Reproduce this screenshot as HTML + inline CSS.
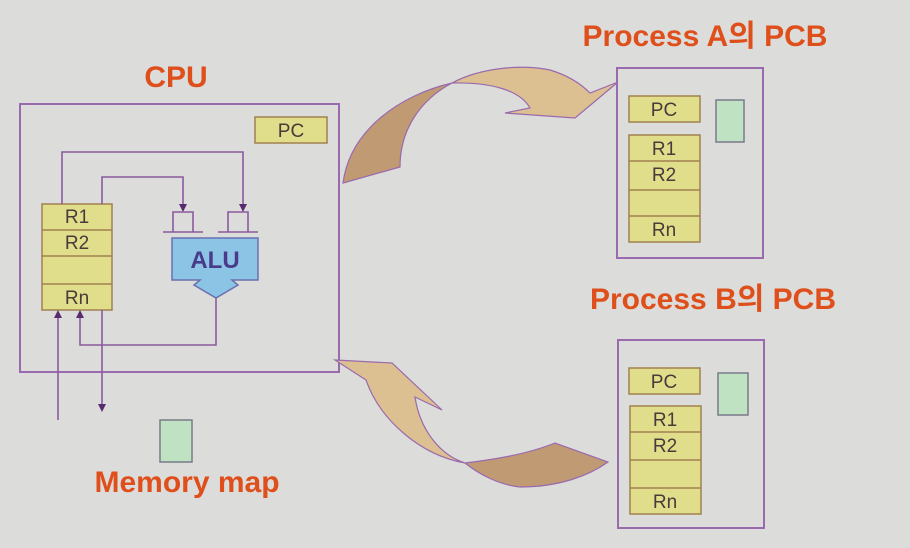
<!DOCTYPE html>
<html><head><meta charset="utf-8"><style>
html,body{margin:0;padding:0;background:#dcdcda}
svg{display:block}
text{font-family:"Liberation Sans","Noto Sans CJK KR",sans-serif}
.t{fill:#df4f1c;font-weight:bold;font-size:30px}
.r{fill:#4a3a3a;font-size:19px}
</style></head><body>
<svg width="910" height="548" viewBox="0 0 910 548" xmlns="http://www.w3.org/2000/svg">
<defs>
<marker id="ah" markerWidth="8" markerHeight="8" refX="4" refY="4" orient="auto" markerUnits="userSpaceOnUse"><path d="M0,0 L8,4 L0,8z" fill="#5a2a70"/></marker>
</defs>
<rect width="910" height="548" fill="#dcdcda"/>
<!-- labels -->
<text class="t" x="176" y="87" text-anchor="middle">CPU</text>
<text class="t" x="705" y="46" text-anchor="middle">Process A의 PCB</text>
<text class="t" x="713" y="309" text-anchor="middle">Process B의 PCB</text>
<text class="t" x="187" y="492" text-anchor="middle">Memory map</text>

<!-- CPU box -->
<rect x="20" y="104" width="319" height="268" fill="none" stroke="#9a6aae" stroke-width="2"/>
<rect x="255" y="117" width="72" height="26" fill="#e0de8a" stroke="#a08050" stroke-width="1.5"/>
<text class="r" x="291" y="137" text-anchor="middle">PC</text>
<!-- registers -->
<g stroke="#a08050" stroke-width="1.5" fill="#e0de8a">
<rect x="42" y="204" width="70" height="106"/>
<line x1="42" y1="230" x2="112" y2="230"/><line x1="42" y1="256" x2="112" y2="256"/><line x1="42" y1="284" x2="112" y2="284"/>
</g>
<text class="r" x="77" y="223" text-anchor="middle">R1</text>
<text class="r" x="77" y="249" text-anchor="middle">R2</text>
<text class="r" x="77" y="304" text-anchor="middle">Rn</text>
<!-- wires -->
<g fill="none" stroke="#8a5a9e" stroke-width="1.6">
<polyline points="62,204 62,152 243,152 243,208" marker-end="url(#ah)"/>
<polyline points="102,204 102,177 183,177 183,208" marker-end="url(#ah)"/>
<polyline points="216,297 216,345 80,345 80,314" marker-end="url(#ah)"/>
<polyline points="58,420 58,314" marker-end="url(#ah)"/>
<polyline points="102,310 102,408" marker-end="url(#ah)"/>
<path d="M173,232 V212 H193 V232 M163,232 H203"/>
<path d="M228,232 V212 H248 V232 M218,232 H258"/>
</g>
<path d="M172,238 H258 V280 H232 L238,285 L216,298 L194,285 L200,280 H172 Z" fill="#8cc4e6" stroke="#6a70b0" stroke-width="1.5"/>
<text x="215" y="268" text-anchor="middle" font-size="24" font-weight="bold" fill="#4a3a8a">ALU</text>
<!-- memory map -->
<rect x="160" y="420" width="32" height="42" fill="#bfe2c2" stroke="#7a7a8a" stroke-width="1.5"/>

<!-- PCB A -->
<rect x="617" y="68" width="146" height="190" fill="none" stroke="#9a6aae" stroke-width="2"/>
<g stroke="#a08050" stroke-width="1.5" fill="#e0de8a">
<rect x="629" y="96" width="71" height="26"/>
<rect x="629" y="135" width="71" height="107"/>
<line x1="629" y1="161" x2="700" y2="161"/><line x1="629" y1="190" x2="700" y2="190"/><line x1="629" y1="216" x2="700" y2="216"/>
</g>
<rect x="716" y="100" width="28" height="42" fill="#bfe2c2" stroke="#7a7a8a" stroke-width="1.5"/>
<text class="r" x="664" y="116" text-anchor="middle">PC</text>
<text class="r" x="664" y="155" text-anchor="middle">R1</text>
<text class="r" x="664" y="181" text-anchor="middle">R2</text>
<text class="r" x="664" y="236" text-anchor="middle">Rn</text>

<!-- PCB B -->
<rect x="618" y="340" width="146" height="188" fill="none" stroke="#9a6aae" stroke-width="2"/>
<g stroke="#a08050" stroke-width="1.5" fill="#e0de8a">
<rect x="629" y="368" width="71" height="26"/>
<rect x="630" y="406" width="71" height="108"/>
<line x1="630" y1="432" x2="701" y2="432"/><line x1="630" y1="460" x2="701" y2="460"/><line x1="630" y1="488" x2="701" y2="488"/>
</g>
<rect x="718" y="373" width="30" height="42" fill="#bfe2c2" stroke="#7a7a8a" stroke-width="1.5"/>
<text class="r" x="664" y="388" text-anchor="middle">PC</text>
<text class="r" x="665" y="426" text-anchor="middle">R1</text>
<text class="r" x="665" y="452" text-anchor="middle">R2</text>
<text class="r" x="665" y="508" text-anchor="middle">Rn</text>

<!-- top curved arrow -->
<path d="M343,183 C350,130 400,95 452,83 C420,100 400,130 400,167 Z" fill="#c09a72" stroke="#9a6aae" stroke-width="1.2"/>
<path d="M452,83 C480,68 520,64 550,70 C570,76 582,85 590,93 L618,82 L575,118 L505,113 L530,108 C520,90 490,82 452,83 Z" fill="#dcc091" stroke="#9a6aae" stroke-width="1.2"/>
<!-- bottom curved arrow -->
<path d="M335,360 L392,363 L442,410 L415,397 C420,430 440,455 465,463 C420,455 380,420 366,380 Z" fill="#dcc091" stroke="#9a6aae" stroke-width="1.2"/>
<path d="M465,463 C490,460 525,455 555,443 L608,462 C590,475 560,487 520,487 C500,485 480,475 465,463 Z" fill="#c09a72" stroke="#9a6aae" stroke-width="1.2"/>
</svg>
</body></html>
